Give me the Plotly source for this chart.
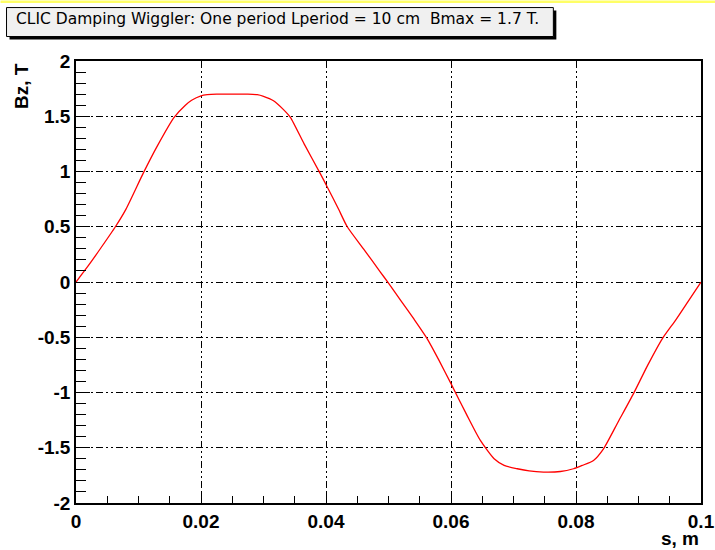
import plotly.graph_objects as go

# ---- data ----
s_m = [0, 0.002, 0.004, 0.0063, 0.008, 0.0108, 0.013, 0.0157, 0.0175, 0.0185,
       0.020, 0.021, 0.0225, 0.025, 0.0275, 0.029, 0.030, 0.0316, 0.0332, 0.0343,
       0.0365, 0.039, 0.0402, 0.042, 0.0434, 0.046, 0.0487, 0.050, 0.052, 0.054,
       0.0562, 0.058, 0.060, 0.0625, 0.0647, 0.0669, 0.0685, 0.0706, 0.0725, 0.0748,
       0.0775, 0.0796, 0.081, 0.0828, 0.0844, 0.0868, 0.0892, 0.0915, 0.0938, 0.096,
       0.098, 0.1]
bz_T = [0, 0.15, 0.31, 0.5, 0.66, 0.99, 1.23, 1.49, 1.60, 1.645,
        1.685, 1.695, 1.70, 1.70, 1.70, 1.695, 1.68, 1.64, 1.56, 1.49,
        1.25, 0.99, 0.86, 0.66, 0.5, 0.3, 0.09, -0.01, -0.17, -0.33,
        -0.514, -0.7, -0.92, -1.2, -1.434, -1.6, -1.66, -1.69, -1.71, -1.72,
        -1.715, -1.69, -1.66, -1.615, -1.51, -1.26, -1.01, -0.75, -0.514, -0.34,
        -0.17, 0]

x_tickvals = [0, 0.02, 0.04, 0.06, 0.08, 0.1]
x_ticktext = ["0", "0.02", "0.04", "0.06", "0.08", "0.1"]
y_tickvals = [-2, -1.5, -1, -0.5, 0, 0.5, 1, 1.5, 2]
y_ticktext = ["-2", "-1.5", "-1", "-0.5", "0", "0.5", "1", "1.5", "2"]

title_text = "CLIC Damping Wiggler: One period Lperiod = 10 cm  Bmax = 1.7 T."
x_title = "s, m"
y_title = "Bz, T"

# ---- layout geometry (pixels) ----
W, H = 715, 550
L, R, T, B = 75.5, 700.7, 60.5, 503.0


def px(x):
    return (x - L) / (R - L)


def py(y):
    return (B - y) / (B - T)


fig = go.Figure()
fig.add_trace(go.Scatter(x=s_m, y=bz_T, mode="lines",
                         line=dict(color="#ff0000", width=1.3, shape="spline",
                                   smoothing=0.6),
                         showlegend=False, hoverinfo="skip"))

grid_dash = "7px,3px,2px,3px,2px,3px"
FONT = "Liberation Sans, Arial, sans-serif"
tickfont = dict(family=FONT, size=19, color="black", weight="bold")

fig.update_xaxes(range=[0, 0.1], tickvals=x_tickvals, ticktext=x_ticktext,
                 automargin=False,
                 showgrid=True, gridcolor="black", gridwidth=1, griddash=grid_dash,
                 zeroline=False, showline=True, linecolor="black", linewidth=1.5,
                 mirror=True, ticks="inside", ticklen=10, tickcolor="black",
                 tickfont=tickfont, ticklabelstandoff=0,
                 minor=dict(dtick=0.005, ticks="inside", ticklen=7,
                            tickcolor="black", showgrid=False))
fig.update_yaxes(range=[-2, 2], tickvals=y_tickvals, ticktext=y_ticktext,
                 automargin=False,
                 showgrid=True, gridcolor="black", gridwidth=1, griddash=grid_dash,
                 zeroline=False, showline=True, linecolor="black", linewidth=1.5,
                 mirror=True, ticks="inside", ticklen=14, tickcolor="black",
                 tickfont=tickfont, ticklabelstandoff=0,
                 minor=dict(dtick=0.1, ticks="inside", ticklen=10,
                            tickcolor="black", showgrid=False))

shapes = [
    # yellow strip at the very top
    dict(type="rect", xref="paper", yref="paper", x0=px(0), x1=px(W),
         y0=py(0), y1=py(2.5), fillcolor="#ffff66", line=dict(width=0), layer="below"),
    # title box shadow
    dict(type="rect", xref="paper", yref="paper", x0=px(9), x1=px(556),
         y0=py(39), y1=py(10), fillcolor="black", line=dict(width=0)),
    # title box
    dict(type="rect", xref="paper", yref="paper", x0=px(6), x1=px(553),
         y0=py(36), y1=py(7), fillcolor="#f0f0f0",
         line=dict(color="black", width=1)),
]

annotations = [
    dict(text=title_text, xref="paper", yref="paper", x=px(277), y=py(18),
         xanchor="center", yanchor="middle", showarrow=False,
         font=dict(family="DejaVu Sans, sans-serif", size=15.5, color="black")),
    dict(text=y_title, xref="paper", yref="paper", x=px(21), y=py(86),
         xanchor="center", yanchor="middle", textangle=-90, showarrow=False,
         font=dict(family=FONT, size=19, color="black", weight="bold")),
    dict(text=x_title, xref="paper", yref="paper", x=px(680), y=py(539),
         xanchor="center", yanchor="middle", showarrow=False,
         font=dict(family=FONT, size=19, color="black", weight="bold")),
]

fig.update_layout(width=W, height=H,
                  margin=dict(l=L, r=W - R, t=T, b=H - B, pad=0, autoexpand=False),
                  paper_bgcolor="white", plot_bgcolor="white",
                  shapes=shapes, annotations=annotations, showlegend=False)

fig.write_html("out.html", config={"displayModeBar": False},
               post_script="document.body.style.margin='0';"
                           "document.body.style.overflow='hidden';")
